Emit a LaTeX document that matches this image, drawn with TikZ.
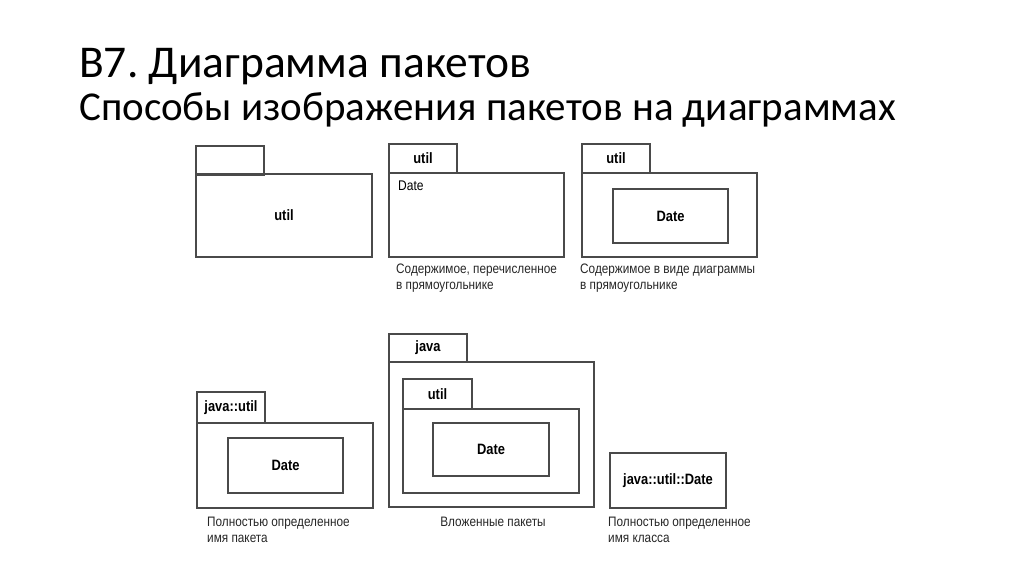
\documentclass[tikz,border=0pt]{standalone}
\usepackage{fontspec}
\setmainfont{Carlito}
\newfontfamily\diagfont[FakeStretch=0.86]{Liberation Sans}
\usepackage{tikz}
\usetikzlibrary{positioning}
\definecolor{pkgline}{HTML}{4A4A4A}
\def\tabnode{\node[tabbox]}
\def\bodynode{\node[bodybox]}

\begin{document}
\frenchspacing
\begin{tikzpicture}[x=1pt,y=-1pt,
  tabbox/.style={draw=pkgline,line width=1.3pt,inner sep=0pt,outer sep=0pt,
    anchor=north west,minimum width=68pt,minimum height=29pt,
    font=\diagfont\fontsize{15}{16}\selectfont\bfseries},
  bodybox/.style={draw=pkgline,line width=1.3pt,inner sep=0pt,outer sep=0pt,
    anchor=north west,font=\diagfont\fontsize{15}{16}\selectfont\bfseries},
  caption/.style={anchor=north west,inner sep=0pt,align=left,
    font=\diagfont\fontsize{13.7}{16}\selectfont,text=black!85}]
\useasboundingbox (0,0) rectangle (1024,574);

% ---------- title
\node[anchor=base west,inner sep=0pt,font=\fontsize{45.5}{46}\selectfont] (title) at (79,77) {В7. Диаграмма пакетов};
\node[anchor=base west,inner sep=0pt,font=\fontsize{41}{41}\selectfont] (subtitle) at (79,120) {Способы изображения пакетов на диаграммах};

% ---------- package, name in body
\tabnode (tabA) at (196,146) {};
\bodynode[minimum width=176pt,minimum height=83pt] (bodyA) at (196,174) {util};

% ---------- contents listed in body
\tabnode (tabB) at (389,144) {util};
\bodynode[minimum width=175pt,minimum height=84pt] (bodyB) at (389,173) {};
\node[anchor=north west,inner sep=0pt,font=\diagfont\fontsize{14}{15}\selectfont] (listB) at (398,181) {Date};
\node[caption] (capB) at (396,264) {Содержимое, перечисленное\\в прямоугольнике};

% ---------- contents drawn as a diagram
\tabnode (tabC) at (582,144) {util};
\bodynode[minimum width=175pt,minimum height=84pt] (bodyC) at (582,173) {};
\bodynode[minimum width=115pt,minimum height=54pt] (dateC) at (613,189) {Date};
\node[caption] (capC) at (580,264) {Содержимое в виде диаграммы\\в прямоугольнике};

% ---------- fully qualified package name
\tabnode[minimum height=31pt] (tabD) at (197,392) {java::util};
\bodynode[minimum width=176pt,minimum height=85pt] (bodyD) at (197,423) {};
\bodynode[minimum width=115pt,minimum height=55pt] (dateD) at (228,438) {Date};
\node[caption] (capD) at (207,517) {Полностью определенное\\имя пакета};

% ---------- nested packages
\tabnode[minimum width=78pt,minimum height=28pt] (tabE) at (389,334) {java};
\bodynode[minimum width=205pt,minimum height=145pt] (bodyE) at (389,362) {};
\tabnode[minimum width=69pt,minimum height=30pt] (tabEin) at (403,379) {util};
\bodynode[minimum width=176pt,minimum height=84pt] (bodyEin) at (403,409) {};
\bodynode[minimum width=116pt,minimum height=53pt] (dateE) at (433,423) {Date};
\node[caption,anchor=north] (capE) at (493,517) {Вложенные пакеты};

% ---------- fully qualified class name
\bodynode[minimum width=116pt,minimum height=55pt] (classF) at (610,453) {java::util::Date};
\node[caption] (capF) at (608,517) {Полностью определенное\\имя класса};
\end{tikzpicture}
\end{document}
